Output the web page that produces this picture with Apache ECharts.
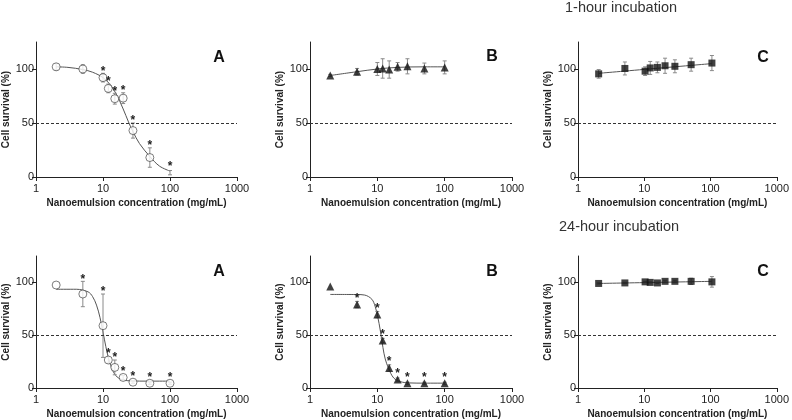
<!DOCTYPE html>
<html>
<head>
<meta charset="utf-8">
<script src="https://cdn.jsdelivr.net/npm/echarts@6/dist/echarts.min.js"></script>
<style>
  html, body { margin: 0; padding: 0; background: #fff; }
  #chart { width: 792px; height: 420px; }
</style>
</head>
<body>
<div id="chart"></div>
<script>
// concentrations (mg/mL)
const conc = [2, 5, 10, 12, 15, 20, 28, 50, 100];
const concC = [2.05, 5.1, 10.3, 12.3, 15.8, 20.6, 29, 51, 105];
const yTicks = [0, 50, 100];

// 1-hour incubation
const survA1 = [102, 100, 92, 82, 72.5, 73, 43, 18, 4];
const errA1 = [3, 4, 4, 4, 5, 5, 7, 9, 2];
const sigA1 = [0, 0, 1, 1, 1, 1, 1, 1, 1];
const hideA1 = [8];
const fitXA1 = [2, 3, 5, 7, 10, 13, 16, 20, 24, 28, 35, 50, 70, 100];
const fitYA1 = [102, 101.5, 99.5, 97, 92, 85, 76, 63, 51, 42, 31, 19, 10, 5.5];

const survB1 = [94, 97.5, 100, 100.5, 99.5, 102, 102.5, 100.5, 101.5];
const errB1 = [1, 3, 6, 9, 8, 4, 7, 5, 6];
const sigB1 = [0, 0, 0, 0, 0, 0, 0, 0, 0];
const fitXB1 = [2, 5, 10, 20, 50, 100];
const fitYB1 = [94, 97.5, 100, 101.5, 102, 102];

const survC1 = [95.5, 100.5, 98, 101, 101.5, 103, 102.5, 104, 105.5];
const errC1 = [4, 6, 4, 6, 5, 7, 6, 6, 7];
const sigC1 = [0, 0, 0, 0, 0, 0, 0, 0, 0];
const fitXC1 = [2.05, 105];
const fitYC1 = [96, 105];

// 24-hour incubation
const survA2 = [97.5, 89, 59, 26.5, 19.5, 10, 5.5, 4.5, 4.5];
const errA2 = [0, 12, 30, 3, 7, 2, 1, 1, 1];
const sigA2 = [0, 1, 1, 1, 1, 1, 1, 1, 1];
const fitXA2 = [2, 4, 6, 7, 8, 9, 10, 11, 12, 13, 15, 18, 25, 50, 100];
const fitYA2 = [93.5, 93.5, 91, 86.5, 78.5, 67, 53, 39.5, 29, 21.5, 13, 8.6, 6.8, 6.5, 6.5];

const survB2 = [96, 79, 69.5, 45, 19, 8, 4.5, 4.5, 4.5];
const errB2 = [0, 3, 3, 2, 3, 1.5, 1, 1, 1];
const sigB2 = [0, 1, 1, 1, 1, 1, 1, 1, 1];
const fitXB2 = [2, 5, 6.5, 8.3, 9.3, 10.1, 11.1, 12.1, 13.1, 14.7, 17.5, 22, 30, 50, 100];
const fitYB2 = [88.6, 88.5, 88, 84, 77, 68, 54, 38.5, 27.5, 18.5, 9.5, 6, 4.8, 4.6, 4.6];

const survC2 = [99, 99.5, 100.5, 100, 99.5, 101, 101, 101, 100.5];
const errC2 = [0.5, 0.5, 0.5, 0.5, 0.5, 1, 1, 3, 5];
const sigC2 = [0, 0, 0, 0, 0, 0, 0, 0, 0];
const fitXC2 = [2.05, 105];
const fitYC2 = [99, 101];

const FONT = 'Liberation Sans, Arial, sans-serif';
const INK = '#222';

const panels = [
  { x: conc, y: survA1, e: errA1, s: sigA1, hide: hideA1, fx: fitXA1, fy: fitYA1, sym: 'circle', letter: 'A' },
  { x: conc, y: survB1, e: errB1, s: sigB1, hide: [], fx: fitXB1, fy: fitYB1, sym: 'triangle', letter: 'B' },
  { x: concC, y: survC1, e: errC1, s: sigC1, hide: [], fx: fitXC1, fy: fitYC1, sym: 'rect', letter: 'C' },
  { x: conc, y: survA2, e: errA2, s: sigA2, hide: [], fx: fitXA2, fy: fitYA2, sym: 'circle', letter: 'A' },
  { x: conc, y: survB2, e: errB2, s: sigB2, hide: [], fx: fitXB2, fy: fitYB2, sym: 'triangle', letter: 'B' },
  { x: concC, y: survC2, e: errC2, s: sigC2, hide: [], fx: fitXC2, fy: fitYC2, sym: 'rect', letter: 'C' }
];

const lefts = [36, 310, 578];
const tops = [42, 256];
const heights = [135, 136];

function errBar(params, api) {
  const x = api.value(0), y = api.value(1), e = api.value(2);
  if (!e) return;
  const t = api.coord([x, y + e]);
  const b = api.coord([x, y - e]);
  const hw = 2;
  const style = { stroke: '#8a8a8a', lineWidth: 1 };
  return {
    type: 'group',
    children: [
      { type: 'line', shape: { x1: t[0], y1: t[1], x2: b[0], y2: b[1] }, style: style },
      { type: 'line', shape: { x1: t[0] - hw, y1: t[1], x2: t[0] + hw, y2: t[1] }, style: style },
      { type: 'line', shape: { x1: b[0] - hw, y1: b[1], x2: b[0] + hw, y2: b[1] }, style: style }
    ]
  };
}

function star(params, api) {
  const x = api.value(0), y = api.value(1), e = api.value(2);
  const p = api.coord([x, y]);
  const t = api.coord([x, y + e]);
  const top = Math.min(t[1], p[1] - 4);
  return {
    type: 'text',
    style: {
      x: p[0], y: top - 2, text: '*', fill: INK,
      font: 'bold 12px ' + FONT, align: 'center', verticalAlign: 'middle'
    }
  };
}

const grid = [], xAxis = [], yAxis = [], series = [];
panels.forEach(function (p, i) {
  const row = Math.floor(i / 3), col = i % 3;
  grid.push({ left: lefts[col], top: tops[row], width: col === 0 ? 201 : 202, height: heights[row] });
  xAxis.push({
    gridIndex: i, type: 'log', logBase: 10, min: 1, max: 1000,
    name: 'Nanoemulsion concentration (mg/mL)', nameLocation: 'middle', nameGap: 21,
    nameTextStyle: { fontFamily: FONT, fontWeight: 'bold', fontSize: 10, color: INK },
    axisLine: { lineStyle: { color: INK, width: 1 } },
    axisTick: { length: 4, lineStyle: { color: INK } },
    minorTick: { show: false },
    splitLine: { show: false },
    axisLabel: {
      fontFamily: FONT, fontSize: 11, color: INK, margin: 6,
      formatter: function (v) { return String(Math.round(v)); }
    }
  });
  yAxis.push({
    gridIndex: i, type: 'value', min: 0, max: 125, interval: 50,
    name: 'Cell survival (%)', nameLocation: 'middle', nameGap: 25,
    nameTextStyle: { fontFamily: FONT, fontWeight: 'bold', fontSize: 10, color: INK },
    axisLine: { show: true, lineStyle: { color: INK, width: 1 } },
    axisTick: { show: true, length: 4, lineStyle: { color: INK }, customValues: yTicks },
    splitLine: { show: false },
    axisLabel: {
      fontFamily: FONT, fontSize: 11, color: INK, margin: 2, customValues: yTicks,
      formatter: function (v) { return yTicks.indexOf(v) >= 0 ? String(v) : ''; }
    }
  });
  series.push({
    type: 'line', xAxisIndex: i, yAxisIndex: i,
    data: p.fx.map(function (x, k) { return [x, p.fy[k]]; }),
    smooth: 0.35, symbol: 'none', silent: true,
    lineStyle: { color: '#555', width: 1 },
    markLine: {
      silent: true, symbol: 'none', label: { show: false },
      lineStyle: { color: '#333', type: [3, 2], width: 1 },
      data: [{ yAxis: 50 }]
    },
    z: 2
  });
  series.push({
    type: 'custom', xAxisIndex: i, yAxisIndex: i, renderItem: errBar,
    data: p.x.map(function (x, k) { return [x, p.y[k], p.e[k]]; }),
    z: 3
  });
  series.push({
    type: 'scatter', xAxisIndex: i, yAxisIndex: i,
    symbol: p.sym, symbolSize: p.sym === 'rect' ? 7 : 8,
    itemStyle: p.sym === 'circle'
      ? { color: '#fff', borderColor: '#333', borderWidth: 0.8 }
      : { color: '#111' },
    data: p.x.map(function (x, k) { return [x, p.y[k]]; })
      .filter(function (d, k) { return p.hide.indexOf(k) < 0; }),
    z: 4
  });
  series.push({
    type: 'custom', xAxisIndex: i, yAxisIndex: i, renderItem: star,
    data: p.x.map(function (x, k) { return [x, p.y[k], p.e[k]]; })
      .filter(function (d, k) { return p.s[k]; }),
    z: 5
  });
});

const letterPos = [[219, 58], [492, 57], [763, 58], [219, 272], [492, 272], [763, 272]];
const graphic = panels.map(function (p, i) {
  return {
    type: 'text', x: letterPos[i][0], y: letterPos[i][1],
    style: { text: p.letter, font: 'bold 16px ' + FONT, fill: '#111', align: 'center', verticalAlign: 'middle' }
  };
});
graphic.push({
  type: 'text', x: 565, y: 8,
  style: { text: '1-hour incubation', font: '14.5px ' + FONT, fill: '#333', verticalAlign: 'middle' }
});
graphic.push({
  type: 'text', x: 559, y: 227,
  style: { text: '24-hour incubation', font: '14.5px ' + FONT, fill: '#333', verticalAlign: 'middle' }
});

const chart = echarts.init(document.getElementById('chart'), null, { renderer: 'canvas' });
chart.setOption({
  animation: false,
  backgroundColor: '#fff',
  grid: grid,
  xAxis: xAxis,
  yAxis: yAxis,
  series: series,
  graphic: graphic
});
</script>
</body>
</html>
